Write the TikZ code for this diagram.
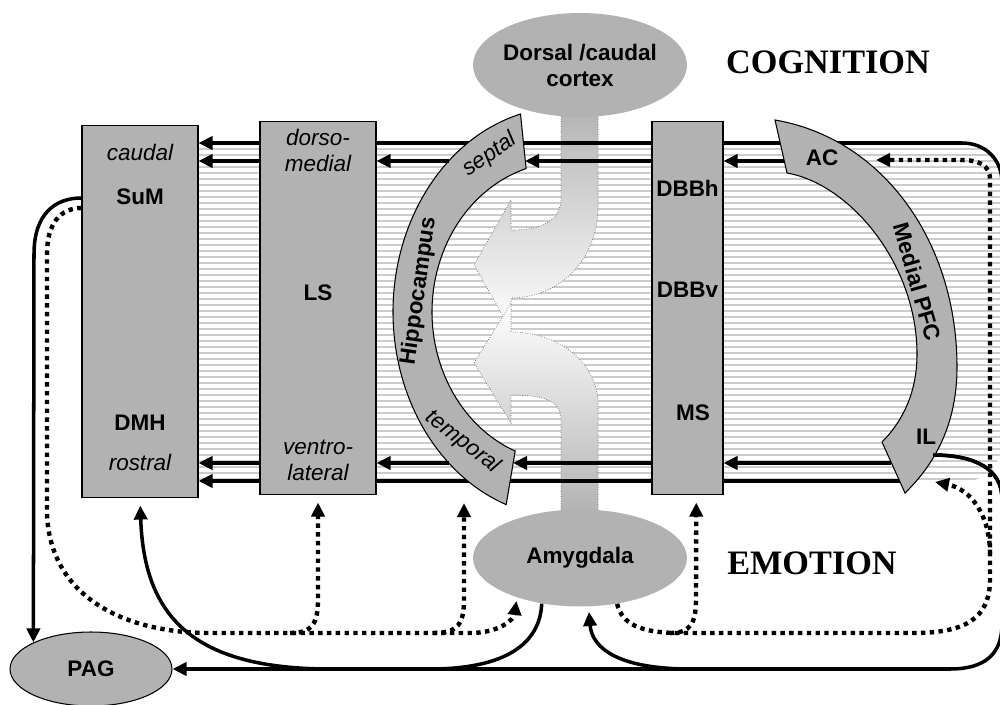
\documentclass[tikz,border=0pt]{standalone}
\usepackage{fontspec}
\setmainfont{Liberation Sans}
\newfontfamily\serifbf{Liberation Serif}
\usetikzlibrary{arrows.meta,shapes.geometric,backgrounds}

\definecolor{region}{gray}{0.70}
\definecolor{stripe}{gray}{0.80}
\newcommand{\labelsize}{\fontsize{12.8}{14.8}\selectfont}

\tikzset{
  area/.style={draw, fill=region, line width=0.6pt, inner sep=0pt},
  blob/.style={ellipse, fill=region, inner sep=0pt, align=center, font=\labelsize\bfseries},
  band/.style={draw, fill=region, line width=0.6pt},
  lbl/.style={font=\labelsize\bfseries, inner sep=0pt},
  sub/.style={font=\labelsize\itshape, inner sep=0pt, align=center},
  main/.style={font=\serifbf\bfseries\fontsize{19.5}{22}\selectfont, inner sep=0pt},
  stripes/.style={draw=stripe, line width=1.1pt},
  stream/.style={draw=black!60, densely dotted, line width=0.4pt},
  wire/.style={line width=2pt},
  fiber/.style={line width=2pt, -{Triangle[length=8pt,width=7.5pt]}},
  dots/.style={line width=2.5pt, dash pattern=on 2.5pt off 2.5pt, -{Triangle[length=8pt,width=7.5pt]}}
}

\begin{document}
\begin{tikzpicture}[x=0.02cm, y=0.02cm]
  \useasboundingbox (0,0) rectangle (1000,704);

  \node[blob, inner xsep=-6pt, minimum width=4.28cm, minimum height=2.08cm] (ctx) at (580,639) {Dorsal /caudal\\cortex};
  \node[blob, minimum width=4.28cm, minimum height=1.94cm] (amy) at (580,146) {Amygdala};
  \node[blob, draw, line width=0.6pt, minimum width=3.24cm, minimum height=1.48cm] (pag) at (91,35) {PAG};

  \node[area, minimum width=2.32cm, minimum height=7.46cm] (sum) at (140,392.5) {};
  \node[area, minimum width=2.32cm, minimum height=7.48cm] (ls) at (318,396) {};
  \node[area, minimum width=1.42cm, minimum height=7.48cm] (dbb) at (687.5,396) {};

  \begin{scope}[shift={(565,392)}]
    \draw[band] (105:3.44cm and 4.1cm) arc[start angle=105, end angle=250, x radius=3.44cm, y radius=4.1cm]
      -- (248:2.66cm and 3cm) arc[start angle=248, end angle=107, x radius=2.66cm, y radius=3cm] -- cycle;
  \end{scope}
  \draw[band] (775,584) .. controls (885,565) and (957,460) .. (957,337) .. controls (957,280) and (935,240) .. (905,211)
    -- (882,262) .. controls (905,285) and (917,315) .. (917,350) .. controls (917,440) and (850,520) .. (787,531) -- cycle;

  \coordinate (sept) at (525,543);
  \coordinate (temp) at (513,241);
  \coordinate (hipT) at (449,543);
  \coordinate (hipB) at (449,241);
  \coordinate (hipD) at (464,201);
  \coordinate (ac) at (784,543);
  \coordinate (acD) at (876,544);
  \coordinate (il) at (891,241);
  \coordinate (ilout) at (933,249);
  \coordinate (ilD) at (935,222);
  \coordinate (ilB) at (905,223);
  \coordinate (j1) at (690,35);
  \coordinate (j2) at (330,35);
  \coordinate (j3) at (430,35);
  \coordinate (d1) at (290,71);
  \coordinate (d2) at (433,71);
  \coordinate (d3) at (670,71);
  \coordinate (d4) at (990,150);

  \begin{scope}[on background layer]
    \begin{scope}
      \clip[rounded corners=0.8cm] (100,222) rectangle (1002,562);
      \foreach \y in {225,231,...,561}
        \draw[stripes] (100,\y) -- (1002,\y);
    \end{scope}
    \draw[stream, top color=region, bottom color=white] (561,600) -- (561,506) .. controls (561,485) and (545,474) .. (511,474)
      -- (511,504) -- (474,439) -- (511,374) -- (511,406) .. controls (560,406) and (598,445) .. (598,497) -- (598,600) -- cycle;
    \draw[stream, top color=white, bottom color=region] (561,190) -- (561,284) .. controls (561,303) and (545,309) .. (511,309)
      -- (511,281) -- (474,341) -- (511,401) -- (511,372) .. controls (560,372) and (598,340) .. (598,300) -- (598,190) -- cycle;
    \draw[fiber] (ilout) .. controls (975,249) and (1002,235) .. (1002,205) -- (1002,521)
      .. controls (1002,545) and (985,561) .. (962,561) -- (sum.east |- 0,561);
    \draw[fiber] (ilB) -- (sum.east |- ilB);
  \end{scope}

  \draw[fiber] (ac) -- (dbb.east |- ac);
  \draw[fiber] (dbb.west |- ac) -- (sept);
  \draw[fiber] (hipT) -- (ls.east |- hipT);
  \draw[fiber] (ls.west |- hipT) -- (sum.east |- hipT);
  \draw[fiber] (il) -- (dbb.east |- il);
  \draw[fiber] (dbb.west |- il) -- (temp);
  \draw[fiber] (hipB) -- (ls.east |- hipB);
  \draw[fiber] (ls.west |- hipB) -- (sum.east |- hipB);

  \draw[fiber] (ilout) .. controls (975,249) and (1002,235) .. (1002,205) -- (1002,80)
    .. controls (1002,50) and (985,35) .. (950,35) -- (pag.east);
  \draw[fiber, shorten >=3pt] (j1) .. controls (620,35) and (592,55) .. (amy.-80);
  \draw[fiber, shorten >=4pt] (j2) .. controls (190,35) and (144,90) .. (sum.south);
  \draw[wire] (amy.-130) .. controls (540,60) and (505,35) .. (j3);
  \draw[fiber] (sum.west |- 0,506) .. controls (55,506) and (34,490) .. (34,450) -- (pag.north west);

  \draw[dots, shorten >=2pt] (sum.west |- 0,496) .. controls (60,496) and (47,480) .. (47,450) -- (47,190)
    .. controls (50,110) and (120,71) .. (210,71) -- (470,71) .. controls (500,71) and (514,85) .. (amy.-148);
  \draw[dots, shorten >=4pt] (d1) .. controls (312,71) and (318,80) .. (318,105) -- (ls.south);
  \draw[dots] (d2) .. controls (458,71) and (464,80) .. (464,105) -- (hipD);
  \draw[dots, shorten >=4pt] (d3) .. controls (690,71) and (696,80) .. (696,105) -- ([xshift=5pt]dbb.south);
  \draw[dots] (amy.-51) .. controls (622,80) and (640,71) .. (680,71) -- (913,71)
    .. controls (965,71) and (990,85) .. (990,125) -- (990,524) .. controls (990,540) and (978,544) .. (960,544) -- (acD);
  \draw[dots] (d4) .. controls (990,190) and (970,215) .. (ilD);

  \node[sub] (caudal) at (140,552) {caudal};
  \node[lbl] (sumtxt) at (140,507) {SuM};
  \node[lbl] (dmhtxt) at (140,281) {DMH};
  \node[sub] (rostral) at (140,242) {rostral};
  \node[sub] (dorso) at (318,554) {dorso-\\medial};
  \node[lbl] (lstxt) at (318,411) {LS};
  \node[sub] (ventro) at (318,244) {ventro-\\lateral};
  \node[lbl] (dbbh) at (687.5,516) {DBBh};
  \node[lbl] (dbbv) at (687.5,414) {DBBv};
  \node[lbl] (ms) at (693,291) {MS};
  \node[lbl, rotate=82] (hippo) at (419,413) {Hippocampus};
  \node[sub, rotate=34] (septal) at (490,549) {septal};
  \node[sub, rotate=-38] (temporal) at (463,262) {temporal};
  \node[lbl] (actxt) at (822,546) {AC};
  \node[lbl, rotate=-74] (pfc) at (917,422) {Medial PFC};
  \node[lbl] (iltxt) at (926,267) {IL};
  \node[main] (cog) at (828,642) {COGNITION};
  \node[main] (emo) at (812,141) {EMOTION};
\end{tikzpicture}
\end{document}
